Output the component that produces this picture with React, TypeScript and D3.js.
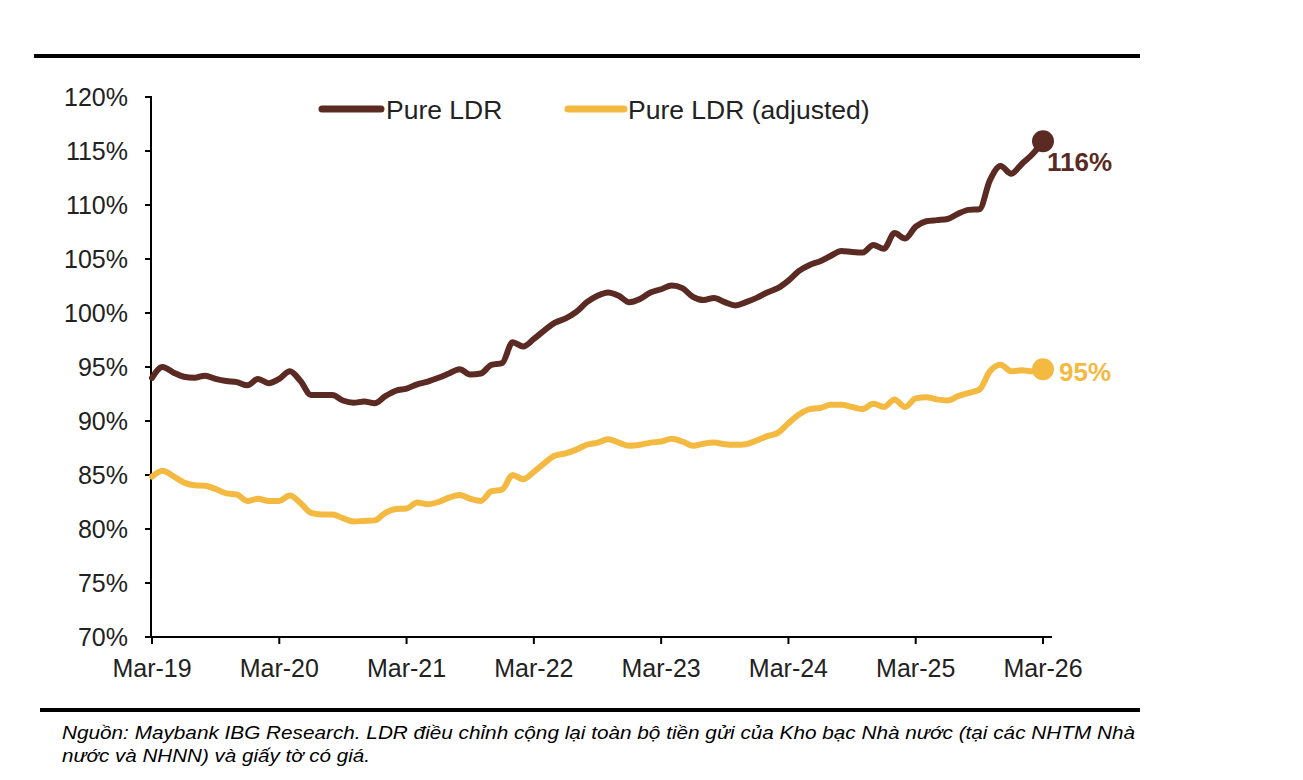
import React from "react";
import * as d3 from "d3";

// Monthly observations, Mar-19 .. Mar-26 (index 0 = Mar-19)
const pureLDR: number[] = [
  94.0, 95.0, 94.5, 94.1, 94.0, 94.2, 93.9, 93.7, 93.6, 93.3, 93.9, 93.5,
  93.9, 94.6, 93.7, 92.4, 92.4, 92.4, 91.9, 91.7, 91.8, 91.65, 92.3, 92.8,
  93.0, 93.4, 93.65, 94.0, 94.4, 94.8, 94.3, 94.4, 95.2, 95.35, 97.3, 96.9,
  97.6, 98.4, 99.1, 99.5, 100.1, 101.0, 101.6, 101.9, 101.6, 101.0, 101.3, 101.9,
  102.2, 102.55, 102.3, 101.5, 101.2, 101.4, 101.0, 100.7, 101.0, 101.4, 101.9, 102.3,
  103.0, 103.9, 104.45, 104.8, 105.3, 105.75, 105.65, 105.6, 106.3, 105.95, 107.4, 106.9,
  108.0, 108.5, 108.6, 108.7, 109.2, 109.55, 109.6, 112.3, 113.6, 112.9, 113.8, 114.7,
  115.9,
];

const pureLDRAdj: number[] = [
  84.85, 85.4, 84.9, 84.3, 84.05, 84.0, 83.7, 83.3, 83.2, 82.6, 82.8, 82.6,
  82.6, 83.1, 82.4, 81.5, 81.35, 81.35, 81.0, 80.7, 80.75, 80.8, 81.5, 81.85,
  81.9, 82.45, 82.3, 82.5, 82.9, 83.15, 82.8, 82.6, 83.5, 83.65, 85.0, 84.6,
  85.3, 86.1, 86.8, 87.0, 87.35, 87.8, 88.0, 88.3, 88.0, 87.7, 87.8, 88.0,
  88.1, 88.35, 88.1, 87.7, 87.9, 88.0, 87.85, 87.8, 87.85, 88.2, 88.6, 88.9,
  89.8, 90.6, 91.1, 91.2, 91.5, 91.5, 91.3, 91.1, 91.6, 91.3, 92.0, 91.3,
  92.1, 92.2, 92.0, 91.9, 92.3, 92.6, 92.9, 94.6, 95.2, 94.6, 94.7, 94.6,
  94.8,
];

const xTickLabels: string[] = ["Mar-19", "Mar-20", "Mar-21", "Mar-22", "Mar-23", "Mar-24", "Mar-25", "Mar-26"];
const yTicks: number[] = [70, 75, 80, 85, 90, 95, 100, 105, 110, 115, 120];
const seriesNames: string[] = ["Pure LDR", "Pure LDR (adjusted)"];
const endLabels: string[] = ["116%", "95%"];
const footerLines: string[] = [
  "Nguồn: Maybank IBG Research. LDR điều chỉnh cộng lại toàn bộ tiền gửi của Kho bạc Nhà nước (tại các NHTM Nhà",
  "nước và NHNN) và giấy tờ có giá.",
];

const BROWN = "#5b2a23";
const YELLOW = "#f4b941";
const FONT = "'Liberation Sans', Arial, Helvetica, sans-serif";

export default function App() {
  const W = 1303;
  const H = 780;
  const x = d3.scaleLinear().domain([0, 84]).range([152, 1043]);
  const y = d3.scaleLinear().domain([70, 120]).range([637, 97]);
  const line = d3
    .line<number>()
    .x((_, i) => x(i))
    .y((d) => y(d))
    .curve(d3.curveMonotoneX);

  const series = [
    { data: pureLDR, color: BROWN },
    { data: pureLDRAdj, color: YELLOW },
  ];

  return (
    <svg
      width={W}
      height={H}
      style={{ position: "absolute", left: 0, top: 0, background: "#fff" }}
      fontFamily={FONT}
    >
      <rect x={0} y={0} width={W} height={H} fill="#fff" />
      {/* top rule */}
      <line x1={34} x2={1140} y1={56} y2={56} stroke="#000" strokeWidth={4} />

      {/* y axis */}
      <line x1={151} x2={151} y1={96} y2={638} stroke="#000" strokeWidth={2} />
      {yTicks.map((t) => (
        <g key={t}>
          <line x1={145} x2={151} y1={y(t)} y2={y(t)} stroke="#000" strokeWidth={2} />
          <text x={128} y={y(t)} dy="0.36em" textAnchor="end" fontSize={25} fill="#222">
            {t}%
          </text>
        </g>
      ))}

      {/* x axis */}
      <line x1={150} x2={1052} y1={637} y2={637} stroke="#000" strokeWidth={2} />
      {xTickLabels.map((lab, i) => (
        <g key={lab}>
          <line x1={x(i * 12)} x2={x(i * 12)} y1={637} y2={644} stroke="#000" strokeWidth={2} />
          <text x={x(i * 12)} y={677} textAnchor="middle" fontSize={25} fill="#222">
            {lab}
          </text>
        </g>
      ))}

      {/* lines */}
      {series.map((s, k) => (
        <path
          key={k}
          d={line(s.data) || ""}
          fill="none"
          stroke={s.color}
          strokeWidth={6}
          strokeLinejoin="round"
          strokeLinecap="round"
        />
      ))}

      {/* end dots and labels */}
      {series.map((s, k) => {
        const last = s.data.length - 1;
        return <circle key={"c" + k} cx={x(last)} cy={y(s.data[last])} r={11} fill={s.color} />;
      })}
      <text x={1047} y={171} fontSize={26} fontWeight="bold" fill={BROWN}>
        {endLabels[0]}
      </text>
      <text x={1059} y={381} fontSize={26} fontWeight="bold" fill={YELLOW}>
        {endLabels[1]}
      </text>

      {/* legend */}
      <line x1={322} x2={381} y1={109} y2={109} stroke={BROWN} strokeWidth={7} strokeLinecap="round" />
      <text x={386} y={119} fontSize={26.5} fill="#222">
        {seriesNames[0]}
      </text>
      <line x1={568} x2={624} y1={109} y2={109} stroke={YELLOW} strokeWidth={7} strokeLinecap="round" />
      <text x={628} y={119} fontSize={26.5} fill="#222">
        {seriesNames[1]}
      </text>

      {/* bottom rule and footer */}
      <line x1={40} x2={1140} y1={710} y2={710} stroke="#000" strokeWidth={4} />
      <text
        x={62}
        y={739}
        fontSize={19}
        fontStyle="italic"
        fill="#000"
        textLength={1073}
        lengthAdjust="spacingAndGlyphs"
      >
        {footerLines[0]}
      </text>
      <text
        x={62}
        y={762}
        fontSize={19}
        fontStyle="italic"
        fill="#000"
        textLength={308}
        lengthAdjust="spacingAndGlyphs"
      >
        {footerLines[1]}
      </text>
    </svg>
  );
}
